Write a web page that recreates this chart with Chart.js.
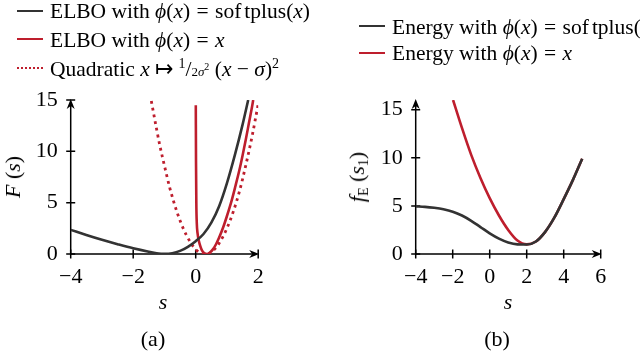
<!DOCTYPE html>
<html>
<head>
<meta charset="utf-8">
<script src="https://cdn.jsdelivr.net/npm/chart.js@4/dist/chart.umd.min.js"></script>
<style>
  html,body{margin:0;padding:0;background:#fff;}
  #wrap{position:relative;width:640px;height:351px;overflow:hidden;font-family:"Liberation Serif","Times New Roman",serif;color:#000;}
  canvas{position:absolute;top:0;}
  .t{position:absolute;white-space:nowrap;font-size:21.5px;line-height:24px;}
  .sw{position:absolute;height:0;}
  i{font-style:italic;}
  .rot{position:absolute;white-space:nowrap;font-size:22px;line-height:24px;transform:translate(-50%,-50%) rotate(-90deg);}
  .ctr{position:absolute;white-space:nowrap;font-size:22px;line-height:24px;transform:translate(-50%,-50%);}
  .sm{font-size:13px;}
  sub{font-size:14px;vertical-align:-4px;line-height:0;}
  sup{font-size:14px;vertical-align:8px;line-height:0;}
  .eq{margin:0 1px;}
</style>
</head>
<body>
<div id="wrap">
  <canvas id="ca" width="320" height="351" style="left:0;width:320px;height:351px"></canvas>
  <canvas id="cb" width="320" height="351" style="left:320px;width:320px;height:351px"></canvas>

  <!-- legend (a) -->
  <div class="sw" style="left:17px;top:9.5px;width:26px;border-top:2.6px solid #333"></div>
  <div class="t" style="left:50px;top:-1px">ELBO with <i>ϕ</i>(<i>x</i>) <span class="eq">=</span> sof<span style="margin-left:3px">tplus</span>(<i>x</i>)</div>
  <div class="sw" style="left:17px;top:38px;width:26px;border-top:2.6px solid #be1e2d"></div>
  <div class="t" style="left:50px;top:27.5px">ELBO with <i>ϕ</i>(<i>x</i>) <span class="eq">=</span> <i>x</i></div>
  <div class="sw" style="left:17px;top:67px;width:26px;border-top:2.6px dotted #be1e2d"></div>
  <div class="t" style="left:50px;top:57px">Quadratic <i>x</i> ↦ <sup>1</sup>/<span class="sm">2<i>σ</i><sup style="font-size:10px;vertical-align:6px">2</sup></span> (<i>x</i> − <i>σ</i>)<sup>2</sup></div>

  <!-- legend (b) -->
  <div class="sw" style="left:359px;top:25px;width:26px;border-top:2.6px solid #333"></div>
  <div class="t" style="left:392px;top:14.5px">Energy with <i>ϕ</i>(<i>x</i>) <span class="eq">=</span> sof<span style="margin-left:3px">tplus</span>(<i>x</i>)</div>
  <div class="sw" style="left:359px;top:51.5px;width:26px;border-top:2.6px solid #be1e2d"></div>
  <div class="t" style="left:392px;top:41px">Energy with <i>ϕ</i>(<i>x</i>) <span class="eq">=</span> <i>x</i></div>

  <!-- axis titles -->
  <div class="rot" style="left:13px;top:177px"><i>F</i> (<i>s</i>)</div>
  <div class="rot" style="left:357px;top:177px"><i>f</i><sub>E</sub> (<i>s</i><sub>1</sub>)</div>
  <div class="ctr" style="left:163px;top:302px"><i>s</i></div>
  <div class="ctr" style="left:508px;top:302px"><i>s</i></div>
  <div class="ctr" style="left:153px;top:339px">(a)</div>
  <div class="ctr" style="left:497px;top:339px">(b)</div>
</div>
<script>
// ---------- data ----------
// panel (a)
const xTicksA = [-4, -2, 0, 2];
const yTicksA = [0, 5, 10, 15];
const elboSoftS = [-4, -3.5, -3, -2.5, -2, -1.5, -1.25, -1, -0.75, -0.5, -0.25, 0, 0.25, 0.5, 0.75, 1.0, 1.25, 1.5, 1.68];
const elboSoftF = [2.35, 1.85, 1.38, 0.95, 0.55, 0.22, 0.08, 0.02, 0.08, 0.3, 0.7, 1.25, 1.95, 3.05, 4.65, 6.9, 9.6, 12.6, 15];
const elboLinS = [0.003, 0.01, 0.02, 0.035, 0.06, 0.1, 0.15, 0.2, 0.27, 0.36, 0.45, 0.55, 0.65, 0.75, 0.88, 1.0, 1.15, 1.27, 1.4, 1.5, 1.6, 1.7, 1.8, 1.84];
const elboLinF = [14.5, 9, 5, 3, 2, 1.3, 0.75, 0.35, 0.1, 0, 0.12, 0.45, 0.95, 1.6, 2.6, 3.7, 5.2, 6.6, 8.2, 9.6, 11.1, 12.7, 14.3, 15];
const quadS = [-1.42, -1.26, -1.15, -1.0, -0.83, -0.6, -0.4, -0.2, 0, 0.15, 0.3, 0.45, 0.6, 0.8, 1.0, 1.2, 1.4, 1.6, 1.8, 2.0];
const quadF = [14.9, 12.3, 10.6, 8.6, 6.45, 4.1, 2.5, 1.3, 0.45, 0.1, 0, 0.1, 0.45, 1.3, 2.5, 4.1, 6.1, 8.6, 11.4, 14.6];
// panel (b)
const xTicksB = [-4, -2, 0, 2, 4, 6];
const yTicksB = [0, 5, 10, 15];
const energySoftS = [-4, -3.5, -3, -2.5, -2, -1.5, -1, -0.5, 0, 0.5, 1.0, 1.5, 2.0, 2.5, 3.0, 3.5, 4.0, 4.5, 5.0];
const energySoftF = [4.95, 4.9, 4.8, 4.65, 4.4, 4.0, 3.45, 2.8, 2.15, 1.6, 1.2, 1.0, 0.98, 1.3, 2.3, 3.8, 5.7, 7.7, 9.9];
const energyLinS = [-1.98, -1.5, -1.0, -0.5, 0, 0.5, 1.0, 1.5, 2.0, 2.5, 3.0, 3.5, 4.0, 4.5, 5.0];
const energyLinF = [16.0, 13.1, 10.3, 7.9, 5.8, 4.0, 2.5, 1.4, 1.0, 1.3, 2.3, 3.8, 5.7, 7.7, 9.9];

const BLACK = '#333333', RED = '#be1e2d';
const FONT = {family: "'Liberation Serif', 'Times New Roman', serif", size: 22};

function pts(xs, ys){ return xs.map((v,i)=>({x:v, y:ys[i]})); }
const minus = v => String(v).replace('-', '\u2212');

const axesPlugin = {
  id: 'axesArrows',
  beforeDatasetsDraw(chart){
    const {ctx, scales:{x, y}} = chart;
    const x0 = x.getPixelForValue(x.min), x1 = x.getPixelForValue(x.max);
    const y0 = y.getPixelForValue(y.min), y1 = y.getPixelForValue(y.max);
    ctx.save();
    ctx.strokeStyle = '#000'; ctx.fillStyle = '#000'; ctx.lineWidth = 1.5;
    ctx.beginPath();
    ctx.moveTo(x0, y0); ctx.lineTo(x1 - 4, y0);
    ctx.moveTo(x0, y0); ctx.lineTo(x0, y1 + 4);
    ctx.stroke();
    ctx.beginPath();
    x.ticks.forEach(t => { const p = x.getPixelForValue(t.value); ctx.moveTo(p, y0 - 4.5); ctx.lineTo(p, y0 + 4.5); });
    y.ticks.forEach(t => { const p = y.getPixelForValue(t.value); ctx.moveTo(x0 - 4.5, p); ctx.lineTo(x0 + 4.5, p); });
    ctx.stroke();
    ctx.beginPath();
    ctx.moveTo(x1 + 1, y0); ctx.lineTo(x1 - 9, y0 - 4); ctx.lineTo(x1 - 6, y0); ctx.lineTo(x1 - 9, y0 + 4); ctx.closePath();
    ctx.moveTo(x0, y1 - 1); ctx.lineTo(x0 - 4, y1 + 9); ctx.lineTo(x0, y1 + 6); ctx.lineTo(x0 + 4, y1 + 9); ctx.closePath();
    ctx.fill();
    ctx.restore();
  }
};

function makeChart(id, cfg){
  const xTicks = cfg.xTicks, yTicks = cfg.yTicks;
  return new Chart(document.getElementById(id), {
    type: 'line',
    data: {datasets: cfg.datasets},
    options: {
      responsive: false, animation: false, events: [],
      layout: {padding: {top: cfg.top, right: cfg.right, left: 0, bottom: 0}},
      plugins: {legend: {display: false}, tooltip: {enabled: false}},
      elements: {point: {radius: 0}, line: {borderWidth: 2.6, cubicInterpolationMode: 'monotone'}},
      scales: {
        x: {
          type: 'linear', min: cfg.xmin, max: cfg.xmax,
          afterBuildTicks: s => { s.ticks = xTicks.map(v => ({value: v})); },
          afterFit: s => { s.height = 351 - cfg.bottom; },
          grid: {display: false, drawTicks: false}, border: {display: false},
          ticks: {autoSkip: false, maxRotation: 0, padding: 10, color: '#000', font: FONT, callback: minus}
        },
        y: {
          type: 'linear', min: cfg.ymin, max: cfg.ymax,
          afterBuildTicks: s => { s.ticks = yTicks.map(v => ({value: v})); },
          afterFit: s => { s.width = cfg.left; },
          grid: {display: false, drawTicks: false}, border: {display: false},
          ticks: {autoSkip: false, padding: 13, color: '#000', font: FONT, callback: minus}
        }
      }
    },
    plugins: [axesPlugin]
  });
}

makeChart('ca', {
  xTicks: xTicksA, yTicks: yTicksA, xmin: -4, xmax: 2, ymin: 0, ymax: 15,
  top: 100, right: 320 - 258.2, left: 70.7, bottom: 254,
  datasets: [
    {data: pts(elboSoftS, elboSoftF), borderColor: BLACK},
    {data: pts(elboLinS, elboLinF), borderColor: RED},
    {data: pts(quadS, quadF), borderColor: RED, borderDash: [2.8, 4], borderWidth: 2.8}
  ]
});

makeChart('cb', {
  xTicks: xTicksB, yTicks: yTicksB, xmin: -4, xmax: 6, ymin: 0, ymax: 16,
  top: 100, right: 320 - 280.7, left: 95.7, bottom: 254,
  datasets: [
    {data: pts(energySoftS, energySoftF), borderColor: BLACK},
    {data: pts(energyLinS, energyLinF), borderColor: RED}
  ]
});
</script>
</body>
</html>
